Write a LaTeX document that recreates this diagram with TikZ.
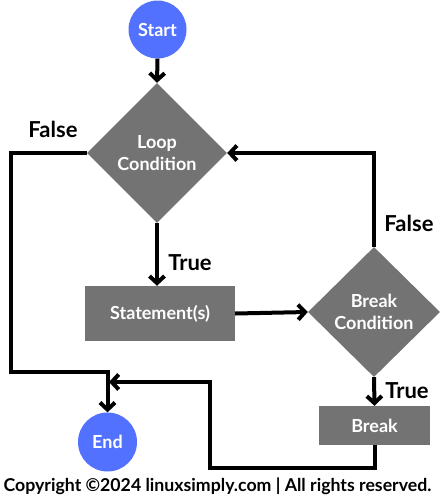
\documentclass[tikz,border=0pt]{standalone}
\usepackage{fontspec}
\setmainfont{Lato}
\usetikzlibrary{arrows.meta,shapes.geometric}
\definecolor{cblue}{HTML}{5271FF}
\definecolor{cgray}{HTML}{737373}
\tikzset{
  term/.style={circle,fill=cblue,draw=none,inner sep=0pt,text=white,font=\bfseries\fontsize{18}{20}\selectfont},
  dec/.style={diamond,fill=cgray,draw=none,inner sep=0pt,text=white,align=center,font=\bfseries\fontsize{18}{22}\selectfont},
  proc/.style={rectangle,fill=cgray,draw=none,inner sep=0pt,text=white,font=\bfseries\fontsize{18}{20}\selectfont},
  lab/.style={font=\bfseries\fontsize{22}{24}\selectfont,text=black,inner sep=0pt},
  conn/.style={line width=4pt,-{Straight Barb[length=7pt,width=15pt,line width=4pt]}},
}
\begin{document}
\begin{tikzpicture}[x=1pt,y=1pt]
\useasboundingbox (0,0) rectangle (444,-496);
\node[term,minimum size=58pt] (start) at (157.5,-29.5) {Start};
\node[dec,minimum width=140pt,minimum height=140pt] (loop) at (157,-153) {Loop\\Condition};
\node[proc,minimum width=150pt,minimum height=55pt] (stmt) at (160,-313.5) {Statement(s)};
\node[dec,minimum width=132pt,minimum height=130pt] (brk) at (374,-312) {Break\\Condition};
\node[proc,minimum width=111pt,minimum height=39pt] (brkbox) at (374.5,-425.5) {Break};
\node[term,minimum size=59pt] (end) at (107.5,-442) {End};
\coordinate (c1) at (11,-372);
\coordinate (c2) at (210,-468);
\coordinate (c3) at (109,-382);
\draw[conn] (start.south) -- (loop.north);
\draw[conn] (loop.west) -| (c1) -| (end.north);
\draw[conn] (loop.south) -- (loop.south |- stmt.north);
\draw[conn] (stmt.east) -- (brk.west);
\draw[conn] (brk.north) |- (loop.east);
\draw[conn] (brk.south) -- (brkbox.north);
\draw[conn] (brkbox.south) |- (c2) |- (c3);
\node[lab] (f1) at (53,-129) {False};
\node[lab] (t1) at (190,-263) {True};
\node[lab] (f2) at (409,-223) {False};
\node[lab] (t2) at (407,-391) {True};
\node[font=\bfseries\fontsize{17.7}{20}\selectfont,inner sep=0pt] (copy) at (217.5,-486) {Copyright ©2024 linuxsimply.com | All rights reserved.};
\end{tikzpicture}
\end{document}
